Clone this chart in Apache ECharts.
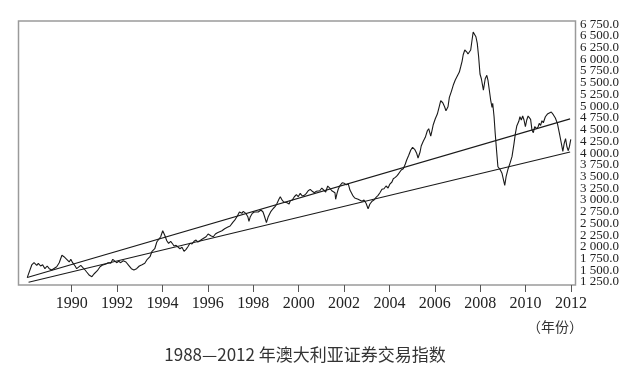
<!DOCTYPE html>
<html>
<head>
<meta charset="utf-8">
<script src="https://cdn.jsdelivr.net/npm/echarts@6/dist/echarts.min.js"></script>
<style>html,body{margin:0;padding:0;background:#fff;}#c{width:642px;height:384px;}</style>
</head>
<body>
<div id="c"></div>
<script>
// Year tick labels on the x axis
const yearTicks = [1990,1992,1994,1996,1998,2000,2002,2004,2006,2008,2010,2012];
// Value tick labels on the right axis
const valueTicks = [1250,1500,1750,2000,2250,2500,2750,3000,3250,3500,3750,4000,4250,4500,4750,5000,5250,5500,5750,6000,6250,6500,6750];
// Australian stock index, [decimal year, index]
const asxIndex = [[1988.04,1342],[1988.24,1613],[1988.34,1662],[1988.46,1606],[1988.53,1649],[1988.63,1591],[1988.72,1619],[1988.82,1534],[1988.92,1591],[1989.01,1534],[1989.12,1506],[1989.19,1534],[1989.34,1576],[1989.45,1662],[1989.57,1820],[1989.66,1790],[1989.78,1734],[1989.89,1677],[1989.96,1734],[1990.04,1662],[1990.15,1591],[1990.22,1534],[1990.29,1576],[1990.40,1606],[1990.48,1564],[1990.59,1506],[1990.66,1463],[1990.78,1393],[1990.89,1363],[1990.98,1421],[1991.13,1491],[1991.25,1576],[1991.34,1606],[1991.42,1591],[1991.51,1634],[1991.61,1662],[1991.72,1649],[1991.81,1734],[1991.89,1692],[1991.98,1662],[1992.07,1692],[1992.16,1662],[1992.27,1704],[1992.39,1677],[1992.51,1606],[1992.63,1534],[1992.74,1506],[1992.86,1534],[1992.98,1591],[1993.10,1619],[1993.22,1649],[1993.33,1734],[1993.45,1790],[1993.54,1905],[1993.66,1960],[1993.75,2103],[1993.83,2075],[1993.92,2216],[1994.01,2344],[1994.10,2246],[1994.19,2131],[1994.27,2075],[1994.36,2118],[1994.45,2061],[1994.51,2018],[1994.60,2033],[1994.68,2075],[1994.77,1960],[1994.86,1990],[1994.95,1905],[1995.04,1947],[1995.12,2003],[1995.21,2075],[1995.30,2061],[1995.39,2118],[1995.48,2146],[1995.56,2103],[1995.65,2131],[1995.74,2161],[1995.83,2189],[1995.92,2216],[1996.01,2274],[1996.06,2302],[1996.15,2231],[1996.24,2216],[1996.33,2274],[1996.42,2302],[1996.50,2289],[1996.62,2344],[1996.74,2387],[1996.86,2417],[1996.98,2444],[1997.09,2515],[1997.21,2587],[1997.30,2658],[1997.39,2743],[1997.45,2771],[1997.50,2715],[1997.56,2758],[1997.67,2715],[1997.76,2643],[1997.81,2545],[1997.87,2643],[1997.96,2715],[1998.05,2743],[1998.13,2758],[1998.22,2743],[1998.34,2786],[1998.43,2743],[1998.49,2658],[1998.58,2515],[1998.66,2643],[1998.78,2758],[1998.87,2813],[1998.96,2856],[1999.05,2929],[1999.13,3014],[1999.19,3069],[1999.25,3014],[1999.34,2956],[1999.40,2984],[1999.49,2941],[1999.58,2914],[1999.63,2984],[1999.72,2999],[1999.81,3069],[1999.90,3112],[1999.98,3069],[2000.07,3142],[2000.16,3084],[2000.25,3099],[2000.34,3142],[2000.42,3197],[2000.51,3227],[2000.60,3185],[2000.69,3155],[2000.78,3185],[2000.84,3227],[2000.93,3197],[2001.02,3255],[2001.10,3227],[2001.19,3170],[2001.28,3298],[2001.34,3340],[2001.39,3240],[2001.46,3197],[2001.54,3227],[2001.60,3155],[2001.63,3014],[2001.69,3142],[2001.75,3240],[2001.83,3313],[2001.92,3368],[2002.01,3355],[2002.10,3325],[2002.19,3340],[2002.26,3212],[2002.38,3099],[2002.47,3042],[2002.53,3084],[2002.62,3014],[2002.70,3027],[2002.79,2971],[2002.88,2999],[2002.97,2929],[2003.06,2813],[2003.14,2914],[2003.23,2971],[2003.32,2999],[2003.41,3057],[2003.50,3099],[2003.58,3155],[2003.67,3227],[2003.76,3240],[2003.85,3298],[2003.94,3255],[2004.02,3340],[2004.11,3383],[2004.17,3453],[2004.26,3483],[2004.35,3526],[2004.43,3554],[2004.52,3639],[2004.61,3667],[2004.70,3767],[2004.76,3852],[2004.85,3953],[2004.94,4066],[2005.02,4123],[2005.11,4081],[2005.20,3995],[2005.26,3895],[2005.35,4023],[2005.40,4151],[2005.49,4251],[2005.58,4336],[2005.67,4477],[2005.73,4520],[2005.82,4364],[2005.88,4492],[2005.93,4605],[2006.02,4733],[2006.11,4833],[2006.20,5004],[2006.26,5117],[2006.35,5074],[2006.43,4989],[2006.49,4904],[2006.58,4989],[2006.64,5190],[2006.73,5318],[2006.81,5446],[2006.90,5559],[2006.99,5644],[2007.08,5729],[2007.14,5842],[2007.20,5958],[2007.25,6098],[2007.32,6199],[2007.41,6156],[2007.46,6113],[2007.52,6086],[2007.58,6199],[2007.64,6412],[2007.69,6583],[2007.76,6610],[2007.81,6482],[2007.87,6341],[2007.93,6056],[2007.99,5687],[2008.05,5586],[2008.14,5345],[2008.22,5586],[2008.29,5659],[2008.34,5559],[2008.40,5345],[2008.46,5132],[2008.52,4976],[2008.55,5062],[2008.61,4776],[2008.66,4422],[2008.73,3995],[2008.78,3709],[2008.87,3654],[2008.96,3569],[2009.02,3441],[2009.08,3313],[2009.14,3496],[2009.23,3667],[2009.31,3782],[2009.40,3923],[2009.49,4208],[2009.55,4422],[2009.61,4577],[2009.70,4678],[2009.75,4776],[2009.81,4706],[2009.87,4791],[2009.93,4706],[2009.99,4563],[2010.05,4706],[2010.11,4791],[2010.17,4833],[2010.22,4720],[2010.28,4492],[2010.34,4435],[2010.40,4563],[2010.49,4520],[2010.55,4563],[2010.60,4635],[2010.66,4592],[2010.72,4691],[2010.78,4648],[2010.87,4776],[2010.96,4833],[2011.04,4861],[2011.13,4876],[2011.22,4819],[2011.31,4748],[2011.40,4635],[2011.49,4422],[2011.58,4194],[2011.64,4038],[2011.70,4208],[2011.76,4307],[2011.82,4136],[2011.88,4051],[2011.93,4136],[2011.99,4294]];
// Trend lines: [start, end] as [year, value]
const upperTrend = [[1988.04,1345],[2011.96,4730]];
const lowerTrend = [[1988.10,1245],[2011.96,4025]];

const titleText = '1988—2012 年澳大利亚证券交易指数';
const unitText = '（年份）';

function fmt(v){
  const s = String(Math.round(v));
  const t = s.length > 3 ? s.slice(0, s.length-3) + ' ' + s.slice(-3) : s;
  return t + '.0';
}

// split ticks in two interleaved sets so that the library does not drop any of them
const ticksA = valueTicks.filter((v, i) => i % 2 === 0);
const ticksB = valueTicks.filter((v, i) => i % 2 === 1);

const Y_MIN = 1186, Y_MAX = 6818;
function yAxisWith(ticks){
  return {
    type: 'value', position: 'right', min: Y_MIN, max: Y_MAX,
    splitLine: {show: false},
    axisLine: {show: false},
    axisTick: {show: false},
    axisLabel: {customValues: ticks, margin: 4.5, fontFamily: 'Liberation Serif', fontSize: 13, color: '#222', showMinLabel: true, showMaxLabel: true, hideOverlap: false, formatter: v => fmt(v)}
  };
}

const chart = echarts.init(document.getElementById('c'), null, {renderer:'canvas'});
const lineColor = '#1a1a1a';
chart.setOption({
  animation: false,
  backgroundColor: '#ffffff',
  grid: {left: 18.5, right: 66.5, top: 21, bottom: 99, show: true, borderColor: '#9a9a9a', borderWidth: 1.5, backgroundColor: 'transparent'},
  xAxis: {
    type: 'value', min: 1987.656, max: 2012.198,
    splitLine: {show: false},
    axisLine: {show: false},
    axisTick: {show: true, inside: false, length: 7, customValues: yearTicks, lineStyle: {color: '#555', width: 1}},
    axisLabel: {customValues: yearTicks, margin: 11, fontFamily: 'Liberation Serif', fontSize: 16, color: '#222', showMinLabel: true, showMaxLabel: true, hideOverlap: false, formatter: v => String(v)}
  },
  yAxis: [yAxisWith(ticksA), yAxisWith(ticksB)],
  graphic: [
    {type: 'text', x: 305, y: 355, style: {text: titleText, fontFamily: 'Noto Sans CJK SC', fontSize: 17, fill: '#333', textAlign: 'center', textVerticalAlign: 'middle'}},
    {type: 'text', x: 555, y: 327, style: {text: unitText, fontFamily: 'Noto Sans CJK SC', fontSize: 14, fill: '#333', textAlign: 'center', textVerticalAlign: 'middle'}}
  ],
  series: [
    {type: 'line', yAxisIndex: 0, data: asxIndex, showSymbol: false, lineStyle: {color: lineColor, width: 1.1}, silent: true},
    {type: 'line', yAxisIndex: 0, data: upperTrend, showSymbol: false, lineStyle: {color: lineColor, width: 1.1}, silent: true},
    {type: 'line', yAxisIndex: 0, data: lowerTrend, showSymbol: false, lineStyle: {color: lineColor, width: 1.1}, silent: true}
  ]
});
</script>
</body>
</html>
